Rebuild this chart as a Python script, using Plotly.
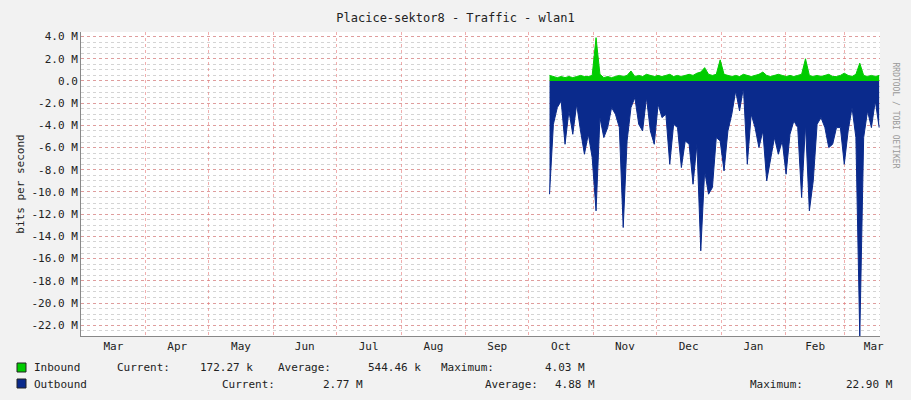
import plotly.graph_objects as go
from datetime import datetime, timedelta

# Outbound (M bits/s, negative) and inbound samples, ~44h apart, starting 2012-10-11
outbound = [-10.2, -3.9, -2.4, -1.8, -5.7, -2.7, -4.8, -2.1, -4.5, -6.6, -4.8, -6.9, -11.7,
            -3.3, -5.1, -4.2, -2.4, -3.0, -4.2, -13.2, -5.4, -2.4, -1.5, -3.9, -4.5, -1.5,
            -4.5, -5.7, -2.1, -3.3, -3.0, -7.5, -3.9, -4.2, -7.8, -5.4, -5.7, -9.3, -5.7,
            -15.3, -8.1, -10.2, -9.6, -5.1, -5.4, -8.1, -4.5, -3.0, -0.9, -2.7, -0.6, -7.5,
            -3.0, -4.2, -6.0, -4.5, -9.0, -6.9, -5.1, -6.6, -5.4, -8.4, -4.8, -3.6, -4.2,
            -10.5, -3.9, -11.7, -9.0, -3.9, -3.3, -4.2, -6.0, -5.7, -4.2, -4.2, -7.5, -4.5,
            -2.4, -5.1, -23.1, -5.1, -2.7, -4.2, -1.8, -4.2]
inbound = [0.5, 0.4, 0.3, 0.4, 0.3, 0.4, 0.3, 0.4, 0.5, 0.4, 0.4, 0.5, 3.9,
           0.6, 0.3, 0.4, 0.3, 0.4, 0.5, 0.4, 0.5, 0.9, 0.4, 0.5, 0.4, 0.6,
           0.5, 0.4, 0.5, 0.4, 0.5, 0.6, 0.4, 0.5, 0.4, 0.5, 0.6, 0.5, 0.7,
           0.8, 1.2, 0.6, 0.5, 0.6, 1.9, 0.6, 0.5, 0.4, 0.5, 0.4, 0.6, 0.5,
           0.4, 0.5, 0.6, 0.8, 0.5, 0.4, 0.5, 0.6, 0.5, 0.4, 0.5, 0.4, 0.5,
           0.6, 2.0, 0.5, 0.4, 0.5, 0.4, 0.5, 0.6, 0.4, 0.4, 0.5, 0.7, 0.5,
           0.4, 0.6, 1.6, 0.5, 0.4, 0.5, 0.4, 0.5]
start = datetime(2012, 10, 11)
dates = [start + timedelta(hours=44.5 * i) for i in range(len(outbound))]

tick_vals = [4, 2, 0, -2, -4, -6, -8, -10, -12, -14, -16, -18, -20, -22]
tick_text = ["4.0 M", "2.0 M", "0.0", "-2.0 M", "-4.0 M", "-6.0 M", "-8.0 M", "-10.0 M",
             "-12.0 M", "-14.0 M", "-16.0 M", "-18.0 M", "-20.0 M", "-22.0 M"]

mono = "DejaVu Sans Mono"
fig = go.Figure()
fig.add_trace(go.Scatter(x=dates, y=inbound, mode="lines", line=dict(color="#00CC00", width=1),
                         fill="tozeroy", fillcolor="#00CC00"))
fig.add_trace(go.Scatter(x=dates, y=outbound, mode="lines", line=dict(color="#0A2A8C", width=1),
                         fill="tozeroy", fillcolor="#0A2A8C"))

fig.update_layout(
    width=911, height=400, showlegend=False,
    paper_bgcolor="#F2F2F2", plot_bgcolor="white",
    margin=dict(l=81, r=31, t=32, b=64, autoexpand=False),
    font=dict(family=mono, size=11, color="#222"),
    title=dict(text="Placice-sektor8 - Traffic - wlan1", x=0.5, xanchor="center", y=0.965,
               font=dict(family=mono, size=12, color="#222")),
)
fig.update_xaxes(type="date", range=["2012-03-01", "2013-03-18"], dtick="M1", tick0="2012-03-01",
                 tickformat="%b", ticklabelmode="period", showgrid=True, gridcolor="rgba(230,120,120,0.6)",
                 griddash="dot", gridwidth=1, showline=True, linecolor="#888", ticks="", automargin=False,
                 tickfont=dict(family=mono, size=11))
fig.update_yaxes(range=[-22.97, 4.41], tickvals=tick_vals, ticktext=tick_text, showgrid=True,
                 gridcolor="rgba(230,120,120,0.6)", griddash="dot", zeroline=False, automargin=False,
                 minor=dict(dtick=0.5, tick0=0, showgrid=True, gridcolor="rgba(170,170,170,0.5)", griddash="dot"),
                 showline=True, linecolor="#888", ticks="",
                 title=dict(text="bits per second", font=dict(family=mono, size=11), standoff=4),
                 tickfont=dict(family=mono, size=11))

W, H, L, B = 911, 400, 81, 64
pw, ph = W - 81 - 31, H - 32 - 64
def px(x): return (x - L) / pw
def py(y): return (H - B - y) / ph
def txt(x, y, t, anchor="left", size=11):
    fig.add_annotation(x=px(x), y=py(y), xref="paper", yref="paper", text=t, showarrow=False,
                       xanchor=anchor, yanchor="middle", font=dict(family=mono, size=size, color="#222"))
fig.add_shape(type="rect", xref="paper", yref="paper", x0=px(17), x1=px(26), y0=py(372), y1=py(363),
              fillcolor="#00CC00", line=dict(color="#222", width=1))
fig.add_shape(type="rect", xref="paper", yref="paper", x0=px(17), x1=px(26), y0=py(388), y1=py(379),
              fillcolor="#0A2A8C", line=dict(color="#222", width=1))
txt(32, 368, "Inbound")
txt(115, 368, "Current:"); txt(255, 368, "172.27 k", "right")
txt(276, 368, "Average:"); txt(423, 368, "544.46 k", "right")
txt(439, 368, "Maximum:"); txt(587, 368, "4.03 M", "right")
txt(32, 384, "Outbound")
txt(220, 384, "Current:"); txt(365, 384, "2.77 M", "right")
txt(483, 384, "Average:"); txt(597, 384, "4.88 M", "right")
txt(748, 384, "Maximum:"); txt(895, 384, "22.90 M", "right")
fig.add_annotation(x=px(901), y=py(60), xref="paper", yref="paper", text="RRDTOOL / TOBI OETIKER",
                   showarrow=False, textangle=90, font=dict(family=mono, size=8, color="#999"))
fig.write_html("out.html", post_script="document.body.style.margin='0';",
               config={"displayModeBar": False})
